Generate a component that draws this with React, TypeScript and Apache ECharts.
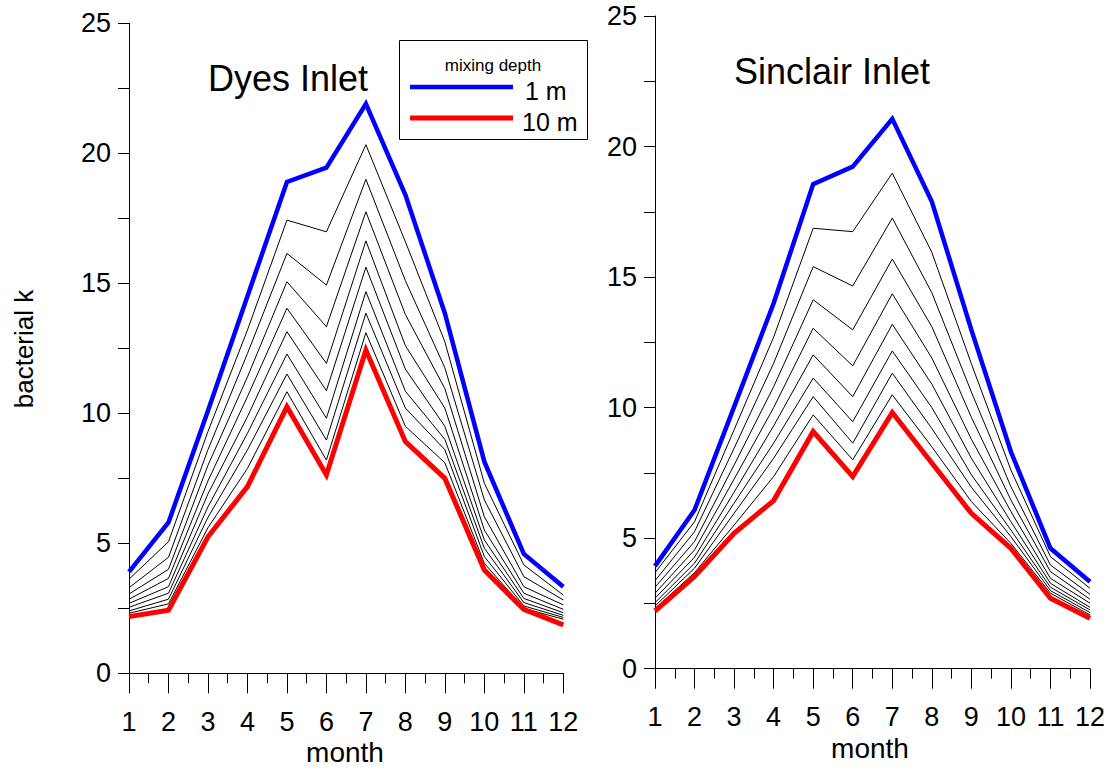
import React, { useEffect, useRef } from "react";
import * as echarts from "echarts";

const MONTHS = [1, 2, 3, 4, 5, 6, 7, 8, 9, 10, 11, 12];
const DEPTHS = ["1 m", "2 m", "3 m", "4 m", "5 m", "6 m", "7 m", "8 m", "9 m", "10 m"];
const Y_TICKS = [0, 5, 10, 15, 20, 25];

// Dyes Inlet: bacterial k by mixing depth (1 m .. 10 m)
const dyes1 = [3.9, 5.8, 10.1, 14.5, 18.9, 19.45, 21.9, 18.4, 13.85, 8.14, 4.59, 3.33];
const dyes2 = [3.62, 5.06, 9.3, 13.2, 17.43, 16.98, 20.33, 16.6, 12.75, 7.31, 4.17, 3.01];
const dyes3 = [3.29, 4.46, 8.6, 12.3, 16.15, 14.93, 19.0, 15.1, 11.75, 6.67, 3.72, 2.82];
const dyes4 = [3.05, 4.0, 8.0, 11.4, 15.06, 13.33, 17.75, 13.8, 10.95, 6.02, 3.33, 2.63];
const dyes5 = [2.85, 3.65, 7.4, 10.64, 14.04, 11.92, 16.63, 12.6, 10.2, 5.51, 3.08, 2.46];
const dyes6 = [2.69, 3.33, 6.9, 9.87, 13.14, 10.87, 15.62, 11.7, 9.5, 5.13, 2.88, 2.33];
const dyes7 = [2.54, 3.08, 6.4, 9.23, 12.28, 9.81, 14.68, 10.85, 9.0, 4.81, 2.72, 2.23];
const dyes8 = [2.4, 2.85, 6.0, 8.59, 11.51, 8.97, 13.85, 10.2, 8.6, 4.49, 2.59, 2.15];
const dyes9 = [2.31, 2.67, 5.6, 7.88, 10.83, 8.2, 13.1, 9.5, 8.1, 4.23, 2.5, 2.08];
const dyes10 = [2.18, 2.43, 5.25, 7.18, 10.25, 7.63, 12.43, 8.91, 7.5, 3.97, 2.46, 1.86];

// Sinclair Inlet
const sinc1 = [3.93, 6.08, 10.03, 14.0, 18.56, 19.23, 21.06, 17.89, 12.98, 8.31, 4.61, 3.33];
const sinc2 = [3.68, 5.63, 9.15, 12.7, 16.87, 16.74, 18.98, 15.95, 11.68, 7.61, 4.29, 3.08];
const sinc3 = [3.37, 5.25, 8.44, 11.7, 15.4, 14.66, 17.26, 14.4, 10.6, 6.97, 3.97, 2.85];
const sinc4 = [3.12, 4.87, 7.8, 10.8, 14.13, 12.98, 15.69, 13.1, 9.63, 6.46, 3.72, 2.66];
const sinc5 = [2.89, 4.55, 7.26, 10.0, 13.04, 11.6, 14.36, 11.9, 8.79, 6.02, 3.46, 2.51];
const sinc6 = [2.7, 4.27, 6.76, 9.3, 12.02, 10.42, 13.19, 10.9, 8.06, 5.63, 3.27, 2.35];
const sinc7 = [2.53, 4.04, 6.34, 8.64, 11.13, 9.46, 12.17, 10.0, 7.43, 5.31, 3.12, 2.25];
const sinc8 = [2.4, 3.85, 5.95, 8.06, 10.42, 8.64, 11.32, 9.2, 6.95, 5.06, 2.99, 2.15];
const sinc9 = [2.3, 3.68, 5.5, 7.36, 9.72, 8.0, 10.49, 8.5, 6.4, 4.8, 2.89, 2.06];
const sinc10 = [2.21, 3.53, 5.19, 6.44, 9.08, 7.36, 9.81, 7.88, 5.95, 4.61, 2.7, 1.93];

const DYES = [dyes1, dyes2, dyes3, dyes4, dyes5, dyes6, dyes7, dyes8, dyes9, dyes10];
const SINC = [sinc1, sinc2, sinc3, sinc4, sinc5, sinc6, sinc7, sinc8, sinc9, sinc10];

const FONT = "'Liberation Sans', Arial, sans-serif";

function styleFor(i: number) {
  if (i === 0) return { color: "#0000ff", width: 4.5 };
  if (i === 9) return { color: "#ff0000", width: 5 };
  return { color: "#000000", width: 1 };
}

function buildSeries(sets: number[][], axisIndex: number) {
  const order = [1, 2, 3, 4, 5, 6, 7, 8, 0, 9];
  return order.map((i) => {
    const st = styleFor(i);
    return {
      type: "line",
      name: DEPTHS[i],
      xAxisIndex: axisIndex,
      yAxisIndex: axisIndex,
      data: MONTHS.map((m, k) => [m, sets[i][k]]),
      symbol: "none",
      lineStyle: { color: st.color, width: st.width, join: "miter" },
      itemStyle: { color: st.color },
      z: i === 0 || i === 9 ? 3 : 2,
    };
  });
}

function xAxis(gridIndex: number) {
  return {
    type: "value",
    gridIndex,
    min: 1,
    max: 12,
    interval: 1,
    axisLine: { show: true, lineStyle: { color: "#000", width: 1 } },
    axisTick: { show: true, length: 20, lineStyle: { color: "#000", width: 1 } },
    minorTick: { show: true, splitNumber: 2, length: 10, lineStyle: { color: "#000", width: 1 } },
    splitLine: { show: false },
    axisLabel: { color: "#000", fontSize: 27, fontFamily: FONT, margin: 35 },
  };
}

function yAxis(gridIndex: number) {
  return {
    type: "value",
    gridIndex,
    min: 0,
    max: 25,
    interval: 2.5,
    axisLine: { show: true, lineStyle: { color: "#000", width: 1 } },
    axisTick: { show: true, length: 11, lineStyle: { color: "#000", width: 1 } },
    splitLine: { show: false },
    axisLabel: {
      color: "#000",
      fontSize: 27,
      fontFamily: FONT,
      margin: 18,
      formatter: (v: number) => (Y_TICKS.indexOf(v) >= 0 ? String(v) : ""),
    },
  };
}

export default function App() {
  const ref = useRef<HTMLDivElement>(null);
  useEffect(() => {
    if (!ref.current) return;
    const chart = echarts.init(ref.current, null, { renderer: "svg" });
    chart.setOption({
      animation: false,
      backgroundColor: "#ffffff",
      grid: [
        { left: 129, width: 434.3, top: 23.3, height: 650 },
        { left: 655, width: 435, top: 16, height: 652.7 },
      ],
      xAxis: [xAxis(0), xAxis(1)],
      yAxis: [yAxis(0), yAxis(1)],
      series: [...buildSeries(DYES, 0), ...buildSeries(SINC, 1)],
      graphic: [
        { type: "text", x: 288, y: 78, style: { text: "Dyes Inlet", font: `36px ${FONT}`, fill: "#000", align: "center", verticalAlign: "middle" } },
        { type: "text", x: 832, y: 71, style: { text: "Sinclair Inlet", font: `36px ${FONT}`, fill: "#000", align: "center", verticalAlign: "middle" } },
        { type: "text", x: 345, y: 752, style: { text: "month", font: `28px ${FONT}`, fill: "#000", align: "center", verticalAlign: "middle" } },
        { type: "text", x: 870, y: 748, style: { text: "month", font: `28px ${FONT}`, fill: "#000", align: "center", verticalAlign: "middle" } },
        { type: "text", x: 24, y: 349, rotation: Math.PI / 2, style: { text: "bacterial k", font: `26px ${FONT}`, fill: "#000", align: "center", verticalAlign: "middle" } },
        { type: "rect", shape: { x: 399.5, y: 40.5, width: 188, height: 99 }, style: { fill: "#fff", stroke: "#000", lineWidth: 1 }, z: 10 },
        { type: "text", x: 493, y: 65, z: 11, style: { text: "mixing depth", font: `17px ${FONT}`, fill: "#000", align: "center", verticalAlign: "middle" } },
        { type: "line", z: 11, shape: { x1: 410, y1: 87, x2: 513, y2: 87 }, style: { stroke: "#0000ff", lineWidth: 4.5 } },
        { type: "text", x: 525, y: 91, z: 11, style: { text: "1 m", font: `25px ${FONT}`, fill: "#000", align: "left", verticalAlign: "middle" } },
        { type: "line", z: 11, shape: { x1: 410, y1: 118, x2: 513, y2: 118 }, style: { stroke: "#ff0000", lineWidth: 5 } },
        { type: "text", x: 522, y: 122, z: 11, style: { text: "10 m", font: `25px ${FONT}`, fill: "#000", align: "left", verticalAlign: "middle" } },
      ],
    });
    return () => chart.dispose();
  }, []);
  return <div ref={ref} style={{ position: "absolute", left: 0, top: 0, width: 1116, height: 770 }} />;
}
